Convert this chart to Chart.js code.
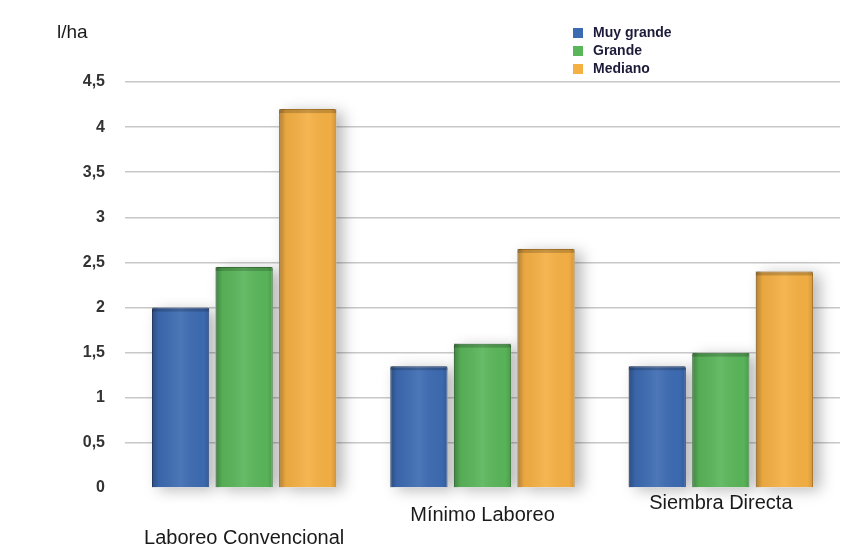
<!DOCTYPE html>
<html>
<head>
<meta charset="utf-8">
<script src="https://cdn.jsdelivr.net/npm/chart.js@4.4.1/dist/chart.umd.min.js"></script>
<style>
  html, body { margin: 0; padding: 0; background: #fff; }
  #wrap { width: 857px; height: 546px; position: relative; }
</style>
</head>
<body>
<div id="wrap"><canvas id="myChart" width="857" height="546"></canvas></div>
<script>
// labour systems and litres per hectare for each tractor size
const categories = ['Laboreo Convencional', 'Mínimo Laboreo', 'Siembra Directa'];
const muyGrande = [2.0, 1.35, 1.35];
const grande = [2.45, 1.6, 1.5];
const mediano = [4.2, 2.65, 2.4];
const yTicks = [0, 0.5, 1, 1.5, 2, 2.5, 3, 3.5, 4, 4.5];
const unitLabel = 'l/ha';

const blue = '#3d6bb2';
const green = '#5ab65a';
const orange = '#f5b044';

// category names sit lower on the left, like the tilted floor of the original
const labelOffsets = [50, 27, 15];

// soft drop shadow behind every bar
const barShadow = {
    id: 'barShadow',
    beforeDatasetsDraw(chart) {
        const ctx = chart.ctx;
        ctx.save();
        ctx.shadowColor = 'rgba(0,0,0,0.28)';
        ctx.shadowBlur = 14;
        ctx.shadowOffsetX = 7;
        ctx.shadowOffsetY = 3;
        ctx.fillStyle = '#fff';
        chart.data.datasets.forEach((ds, i) => {
            chart.getDatasetMeta(i).data.forEach(bar => {
                ctx.fillRect(bar.x - bar.width / 2, bar.y, bar.width, bar.base - bar.y);
            });
        });
        ctx.restore();
    }
};

// a bit of shading so the bars look rounded
const barShade = {
    id: 'barShade',
    afterDatasetsDraw(chart) {
        const ctx = chart.ctx;
        ctx.save();
        chart.data.datasets.forEach((ds, i) => {
            chart.getDatasetMeta(i).data.forEach(bar => {
                const l = bar.x - bar.width / 2;
                const g = ctx.createLinearGradient(l, 0, l + bar.width, 0);
                g.addColorStop(0, 'rgba(0,0,0,0.28)');
                g.addColorStop(0.12, 'rgba(0,0,0,0.05)');
                g.addColorStop(0.5, 'rgba(255,255,255,0.08)');
                g.addColorStop(0.9, 'rgba(0,0,0,0.02)');
                g.addColorStop(1, 'rgba(0,0,0,0.15)');
                ctx.fillStyle = g;
                ctx.fillRect(l, bar.y, bar.width, bar.base - bar.y);
                ctx.fillStyle = 'rgba(0,0,0,0.18)';
                ctx.fillRect(l, bar.y, bar.width, 4);
            });
        });
        ctx.restore();
    }
};

// unit, legend and category names
const extras = {
    id: 'extras',
    afterDraw(chart) {
        const ctx = chart.ctx;
        const xs = chart.scales.x;
        ctx.save();
        ctx.fillStyle = '#1a1a1a';
        ctx.font = '19px "Liberation Sans", Arial, sans-serif';
        ctx.textBaseline = 'middle';
        ctx.textAlign = 'left';
        ctx.fillText(unitLabel, 57, 33);

        ctx.font = 'bold 14px "Liberation Sans", Arial, sans-serif';
        chart.data.datasets.forEach((ds, i) => {
            const y = 33 + i * 18;
            ctx.fillStyle = ds.backgroundColor;
            ctx.fillRect(573, y - 5, 10, 10);
            ctx.fillStyle = '#1c1c3a';
            ctx.fillText(ds.label, 593, y);
        });

        ctx.font = '20px "Liberation Sans", Arial, sans-serif';
        ctx.textAlign = 'center';
        ctx.fillStyle = '#1a1a1a';
        categories.forEach((c, i) => {
            ctx.fillText(c, xs.getPixelForValue(i), chart.chartArea.bottom + labelOffsets[i]);
        });
        ctx.restore();
    }
};

const ctx = document.getElementById('myChart');
const myChart = new Chart(ctx, {
    type: 'bar',
    data: {
        labels: categories,
        datasets: [
            { label: 'Muy grande', data: muyGrande, backgroundColor: blue, borderColor: '#2c4f88' },
            { label: 'Grande', data: grande, backgroundColor: green, borderColor: '#3f8a40' },
            { label: 'Mediano', data: mediano, backgroundColor: orange, borderColor: '#c98a2c' }
        ]
    },
    options: {
        responsive: false,
        animation: false,
        layout: { padding: { top: 82, bottom: 58, left: 0, right: 17 } },
        datasets: {
            bar: {
                categoryPercentage: 0.8,
                barPercentage: 0.9,
                borderWidth: 1,
                borderRadius: 2,
                borderSkipped: 'bottom'
            }
        },
        plugins: {
            legend: { display: false },
            tooltip: { enabled: false }
        },
        scales: {
            x: { display: false },
            y: {
                min: 0,
                max: 4.5,
                afterBuildTicks(scale) {
                    scale.ticks = yTicks.map(v => ({ value: v }));
                },
                afterFit(scale) { scale.width = 125; },
                border: { display: false },
                grid: {
                    drawTicks: false,
                    lineWidth: 1.5,
                    color: c => c.tick && c.tick.value === 0 ? 'rgba(0,0,0,0)' : '#c8c8c8'
                },
                ticks: {
                    padding: 20,
                    color: '#333',
                    font: { family: '"Liberation Sans", Arial, sans-serif', size: 16, weight: 'bold' },
                    callback: v => String(v).replace('.', ',')
                }
            }
        }
    },
    plugins: [barShadow, barShade, extras]
});
</script>
</body>
</html>
